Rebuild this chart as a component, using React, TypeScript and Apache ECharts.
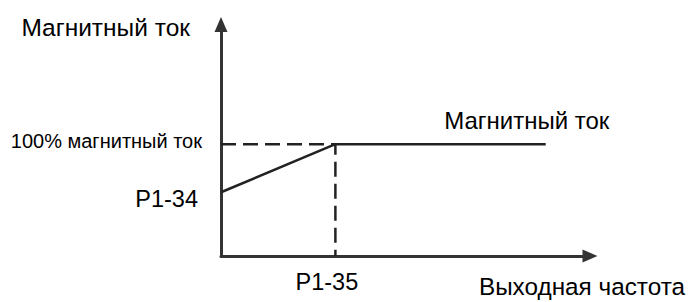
import React, { useEffect, useRef } from "react";
import * as echarts from "echarts";

const xTickValues = [31];
const xTickLabels = ["P1-35"];
const yTickValues = [57, 100];
const yTickLabels = ["P1-34", "100% магнитный ток"];
const curveX = [0, 31, 88];
const curveY = [57, 100, 100];
const guideX = [0, 31, 31];
const guideY = [100, 100, 0];
const yAxisName = "Магнитный ток";
const xAxisName = "Выходная частота";
const curveName = "Магнитный ток";

const FONT = "'Liberation Sans', Arial, sans-serif";

export default function App() {
  const ref = useRef<HTMLDivElement>(null);
  useEffect(() => {
    if (!ref.current) return;
    const chart = echarts.init(ref.current, null, { renderer: "svg" });
    const curve = curveX.map((x, i) => [x, curveY[i]]);
    const guide = guideX.map((x, i) => [x, guideY[i]]);
    const last = curve.length - 1;
    chart.setOption({
      animation: false,
      grid: { left: 221, right: 100, top: 24.5, bottom: 46, containLabel: false, outerBoundsMode: "none" },
      xAxis: {
        type: "value",
        min: 0,
        max: 100,
        splitLine: { show: false },
        axisTick: { show: false },
        axisLine: {
          show: true,
          symbol: ["none", "triangle"],
          symbolSize: [13, 15],
          lineStyle: { color: "#333", width: 3 },
        },
        axisLabel: {
          customValues: xTickValues,
          formatter: (v: number) => xTickLabels[xTickValues.indexOf(v)] ?? "",
          fontSize: 23.5,
          fontFamily: FONT,
          color: "#000",
          margin: 14,
          padding: [0, 17, 0, 0],
        },
        name: xAxisName,
        nameLocation: "end",
        nameGap: 95,
        nameTextStyle: {
          fontSize: 24.3,
          fontFamily: FONT,
          color: "#000",
          align: "right",
          verticalAlign: "top",
          lineHeight: 60,
        },
      },
      yAxis: {
        type: "value",
        min: 0,
        max: 207,
        splitLine: { show: false },
        axisTick: { show: false },
        axisLine: {
          show: true,
          symbol: ["none", "triangle"],
          symbolSize: [13, 15],
          lineStyle: { color: "#333", width: 3 },
        },
        axisLabel: {
          customValues: yTickValues,
          formatter: (v: number) => {
            const t = yTickLabels[yTickValues.indexOf(v)] ?? "";
            return v === 100 ? "{a|" + t + "}" : "{b|" + t + "}";
          },
          margin: 0,
          color: "#000",
          rich: {
            a: { fontSize: 20, fontFamily: FONT, color: "#000", padding: [0, 19, 7, 0] },
            b: { fontSize: 23.5, fontFamily: FONT, color: "#000", padding: [13, 23, 0, 0] },
          },
        },
        name: yAxisName,
        nameLocation: "end",
        nameGap: -3,
        nameTextStyle: {
          fontSize: 24.5,
          fontFamily: FONT,
          color: "#000",
          align: "right",
          verticalAlign: "middle",
          padding: [0, 31, 0, 0],
        },
      },
      series: [
        {
          type: "line",
          data: guide,
          symbol: "none",
          lineStyle: { color: "#222", width: 2.5, type: [15, 7] },
          silent: true,
        },
        {
          type: "line",
          data: curve,
          symbol: "none",
          lineStyle: { color: "#222", width: 2.5 },
          silent: true,
          markPoint: {
            symbol: "circle",
            symbolSize: 0,
            silent: true,
            data: [{ coord: curve[last], value: curveName }],
            label: {
              show: true,
              formatter: curveName,
              position: "top",
              distance: 0,
              offset: [-19, -12],
              fontSize: 24,
              fontFamily: FONT,
              color: "#000",
            },
          },
        },
      ],
    });
    return () => chart.dispose();
  }, []);
  return (
    <div
      ref={ref}
      style={{ position: "fixed", left: 0, top: 0, width: 690, height: 302, background: "#fff" }}
    />
  );
}
